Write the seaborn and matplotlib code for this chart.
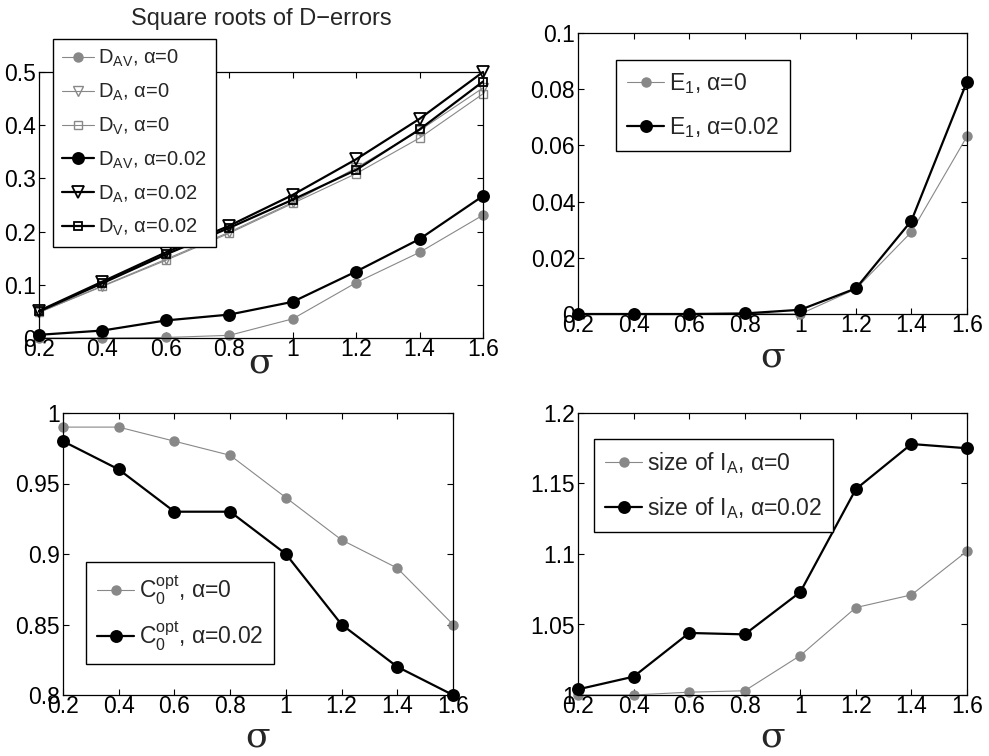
import matplotlib
matplotlib.use("Agg")
import matplotlib.pyplot as plt
import seaborn as sns
import numpy as np

sigma = [0.2, 0.4, 0.6, 0.8, 1.0, 1.2, 1.4, 1.6]

# Square roots of D-errors
dav_a0 = [0.0, 0.0, 0.001, 0.005, 0.036, 0.104, 0.161, 0.231]
da_a0 = [0.048, 0.098, 0.148, 0.199, 0.255, 0.320, 0.390, 0.470]
dv_a0 = [0.048, 0.097, 0.146, 0.197, 0.253, 0.309, 0.376, 0.459]
dav_a2 = [0.006, 0.014, 0.033, 0.044, 0.068, 0.125, 0.186, 0.267]
da_a2 = [0.051, 0.106, 0.161, 0.211, 0.269, 0.336, 0.412, 0.500]
dv_a2 = [0.050, 0.103, 0.157, 0.207, 0.260, 0.316, 0.392, 0.482]

# E1
e1_a0 = [0.0, 0.0, 0.0, 0.0002, 0.0, 0.0089, 0.0292, 0.0632]
e1_a2 = [0.0, 0.0, 0.0, 0.0002, 0.0015, 0.0091, 0.0332, 0.0827]

# C0 opt
c0_a0 = [0.99, 0.99, 0.98, 0.97, 0.94, 0.91, 0.89, 0.85]
c0_a2 = [0.98, 0.96, 0.93, 0.93, 0.90, 0.85, 0.82, 0.80]

# size of I_A
ia_a0 = [1.000, 1.000, 1.002, 1.003, 1.028, 1.062, 1.071, 1.102]
ia_a2 = [1.004, 1.013, 1.044, 1.043, 1.073, 1.146, 1.178, 1.175]

sns.set_theme(style="ticks")
plt.rcParams['font.family'] = ['Liberation Sans', 'DejaVu Sans']
plt.rcParams['mathtext.fontset'] = 'custom'
plt.rcParams['mathtext.rm'] = 'Liberation Sans'
plt.rcParams['mathtext.it'] = 'Liberation Sans'
plt.rcParams['mathtext.default'] = 'rm'

W, H = 989, 756
fig = plt.figure(figsize=(W / 100, H / 100), dpi=100)

def axes_px(x0, y0, x1, y1):
    return fig.add_axes([x0 / W, 1 - y1 / H, (x1 - x0) / W, (y1 - y0) / H])

GRAY = "#888888"
TICKFS = 16.5

def style(ax, ylim, yticks, labelpad):
    ax.set_xlim(0.2, 1.6)
    ax.set_ylim(*ylim)
    ax.set_xticks(sigma)
    ax.set_xticklabels(["%g" % v for v in sigma])
    ax.set_yticks(yticks)
    ax.set_yticklabels(["%g" % round(v, 4) for v in yticks])
    ax.tick_params(direction="in", top=True, right=True, length=4, width=0.8,
                   labelsize=TICKFS, pad=2, colors="black")
    ax.tick_params(axis="x", pad=0)
    for s in ax.spines.values():
        s.set_visible(True)
        s.set_color("black")
        s.set_linewidth(0.9)
    ax.set_facecolor("white")
    ax.set_xlabel("σ", family=["DejaVu Serif"], fontsize=26, labelpad=labelpad)
    ax.set_ylabel("")

def gray_line(ax, y, marker, label, ms=6.5, filled=True):
    sns.lineplot(x=sigma, y=y, ax=ax, color=GRAY, linewidth=0.8, marker=marker,
                 markersize=ms, markerfacecolor=GRAY if filled else "none",
                 markeredgecolor=GRAY, markeredgewidth=1.0, label=label, zorder=2,
                 clip_on=False)

def black_line(ax, y, marker, label, ms=8, filled=True):
    sns.lineplot(x=sigma, y=y, ax=ax, color="black", linewidth=1.6, marker=marker,
                 markersize=ms, markerfacecolor="black" if filled else "none",
                 markeredgecolor="black", markeredgewidth=1.3, label=label, zorder=3,
                 clip_on=False)

def legend(ax, x, y, fs=16.5, spacing=0.8, bpad=0.5):
    leg = ax.legend(loc="upper left", bbox_to_anchor=(x / W, 1 - y / H),
                    bbox_transform=fig.transFigure, fontsize=fs, frameon=True,
                    fancybox=False, framealpha=1, edgecolor="black",
                    handlelength=1.6, handletextpad=0.2, labelspacing=spacing,
                    borderpad=bpad, borderaxespad=0)
    leg.get_frame().set_linewidth(1.0)
    leg.set_zorder(10)
    return leg

# Top-left
ax1 = axes_px(39, 72, 483, 338)
gray_line(ax1, dav_a0, "o", r"D$_{\rm AV}$, α=0")
gray_line(ax1, da_a0, "v", r"D$_{\rm A}$, α=0", ms=7.5, filled=False)
gray_line(ax1, dv_a0, "s", r"D$_{\rm V}$, α=0", ms=5.5, filled=False)
black_line(ax1, dav_a2, "o", r"D$_{\rm AV}$, α=0.02")
black_line(ax1, da_a2, "v", r"D$_{\rm A}$, α=0.02", ms=8.5, filled=False)
black_line(ax1, dv_a2, "s", r"D$_{\rm V}$, α=0.02", ms=6, filled=False)
style(ax1, (0, 0.5), [0, 0.1, 0.2, 0.3, 0.4, 0.5], labelpad=-11)
ax1.set_title("Square roots of D\u2212errors", fontsize=17, pad=34)
legend(ax1, 53, 39, fs=14.5, spacing=0.62, bpad=0.45)

# Top-right
ax2 = axes_px(578, 33, 967, 314)
gray_line(ax2, e1_a0, "o", r"E$_{1}$, α=0")
black_line(ax2, e1_a2, "o", r"E$_{1}$, α=0.02")
style(ax2, (0, 0.1), [0, 0.02, 0.04, 0.06, 0.08, 0.1], labelpad=2)
legend(ax2, 616, 60)

# Bottom-left
ax3 = axes_px(63, 413, 453, 695)
gray_line(ax3, c0_a0, "o", r"C$_0^{\rm opt}$, α=0")
black_line(ax3, c0_a2, "o", r"C$_0^{\rm opt}$, α=0.02")
style(ax3, (0.8, 1.0), [0.8, 0.85, 0.9, 0.95, 1.0], labelpad=1)
legend(ax3, 86, 562, spacing=0.55)

# Bottom-right
ax4 = axes_px(578, 413, 967, 695)
gray_line(ax4, ia_a0, "o", r"size of I$_{\rm A}$, α=0")
black_line(ax4, ia_a2, "o", r"size of I$_{\rm A}$, α=0.02")
style(ax4, (1.0, 1.2), [1.0, 1.05, 1.1, 1.15, 1.2], labelpad=1)
legend(ax4, 594, 439)

fig.savefig("out.png", dpi=100, facecolor="white")
